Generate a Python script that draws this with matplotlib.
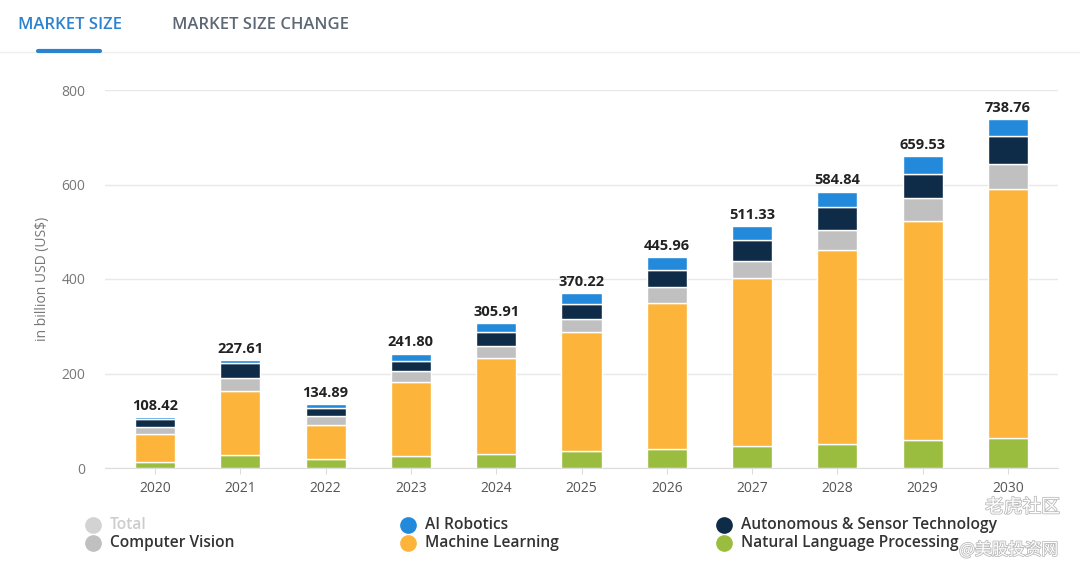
import matplotlib.pyplot as plt
import matplotlib.patheffects as pe
import numpy as np

plt.rcParams['font.family'] = ['Open Sans', 'DejaVu Sans']

# Market size data (billion USD)
years = ['2020', '2021', '2022', '2023', '2024', '2025', '2026', '2027', '2028', '2029', '2030']
totals = [108.42, 227.61, 134.89, 241.80, 305.91, 370.22, 445.96, 511.33, 584.84, 659.53, 738.76]
nlp = [13.5, 27.5, 19, 25, 30, 35, 40, 46.5, 51, 59.5, 64.5]
machine_learning = [59, 135, 73, 156, 202, 252, 310, 356, 411, 463, 527]
computer_vision = [13.5, 28.5, 18, 25, 27, 28.5, 34, 36.5, 42.5, 48, 51]
autonomous = [18, 32, 18, 20, 28.5, 32.5, 36, 42.5, 47.5, 51, 60]
ai_robotics = [4.42, 4.61, 6.89, 15.8, 18.41, 22.22, 25.96, 29.83, 32.84, 38.03, 36.26]

segments = [
    ('Natural Language Processing', nlp, '#9bbd3f'),
    ('Machine Learning', machine_learning, '#fdb43a'),
    ('Computer Vision', computer_vision, '#c0c0c0'),
    ('Autonomous & Sensor Technology', autonomous, '#0e2b47'),
    ('AI Robotics', ai_robotics, '#2389da'),
]

fig = plt.figure(figsize=(10.8, 5.75), dpi=100)
ax = fig.add_axes([105 / 1080, (575 - 468) / 575, (1058 - 105) / 1080, (468 - 90) / 575])

x = np.arange(len(years))
bottom = np.zeros(len(years))
for name, vals, color in segments:
    ax.bar(x, vals, width=0.47, bottom=bottom, color=color, edgecolor='white', linewidth=1.0, zorder=3)
    bottom += np.array(vals)

for i, t in enumerate(totals):
    ax.text(x[i], bottom[i] + 9, f'{t:.2f}', ha='center', va='bottom', fontsize=10.5,
            fontweight='bold', color='#222222', clip_on=False)

ax.set_xlim(-0.586, len(years) - 1 + 0.586)
ax.set_ylim(0, 800)
ax.set_yticks([0, 200, 400, 600, 800])
ax.set_xticks(x)
ax.set_xticklabels(years)
ax.grid(axis='y', color='#e8e8e8', linewidth=1, zorder=0)
for s in ['top', 'right', 'left']:
    ax.spines[s].set_visible(False)
ax.spines['bottom'].set_color('#dcdcdc')
ax.tick_params(axis='y', length=0, pad=14, labelsize=10, labelcolor='#777777')
ax.tick_params(axis='x', length=4, color='#dcdcdc', pad=5, labelsize=10, labelcolor='#555555')
ax.set_ylabel('in billion USD (US$)', fontsize=10, color='#777777', labelpad=8)

# Tabs at the top
fig.text(18 / 1080, 1 - 25 / 575, 'MARKET SIZE', fontsize=12, fontweight='semibold',
         color='#2b82cf', va='center', ha='left')
fig.text(172 / 1080, 1 - 25 / 575, 'MARKET SIZE CHANGE', fontsize=12, fontweight='semibold',
         color='#5d6875', va='center', ha='left')
fig.add_artist(plt.Line2D([0, 1], [1 - 52 / 575] * 2, color='#eeeeee', linewidth=1))
fig.add_artist(plt.Line2D([38 / 1080, 100 / 1080], [1 - 51 / 575] * 2, color='#2b82cf', linewidth=3,
                          solid_capstyle='round'))

# Legend
legend_items = [
    ('Total', '#d3d3d3', '#cccccc', 93, 525),
    ('Computer Vision', '#c0c0c0', '#333333', 93, 543),
    ('AI Robotics', '#2389da', '#333333', 408, 525),
    ('Machine Learning', '#fdb43a', '#333333', 408, 543),
    ('Autonomous & Sensor Technology', '#0e2b47', '#333333', 724, 525),
    ('Natural Language Processing', '#9bbd3f', '#333333', 724, 543),
]
for label, mc, tc, px, py in legend_items:
    fig.add_artist(plt.Line2D([px / 1080], [1 - py / 575], marker='o', markersize=11,
                              color=mc, linestyle='none'))
    fig.text((px + 17) / 1080, 1 - py / 575, label, fontsize=11.2, fontweight='semibold',
             color=tc, va='center', ha='left')

# Watermark
wm = [pe.withStroke(linewidth=1.2, foreground='#bbbbbb')]
fig.text(1060 / 1080, 1 - 507 / 575, '老虎社区', fontsize=13.5, color='white', ha='right', va='center',
         family=['Noto Sans CJK SC', 'DejaVu Sans'], path_effects=wm)
fig.text(1058 / 1080, 1 - 550 / 575, '@美股投资网', fontsize=12, color='white', ha='right', va='center',
         family=['Noto Sans CJK SC', 'DejaVu Sans'], path_effects=wm)

fig.savefig('out.png', dpi=100, facecolor='white')
